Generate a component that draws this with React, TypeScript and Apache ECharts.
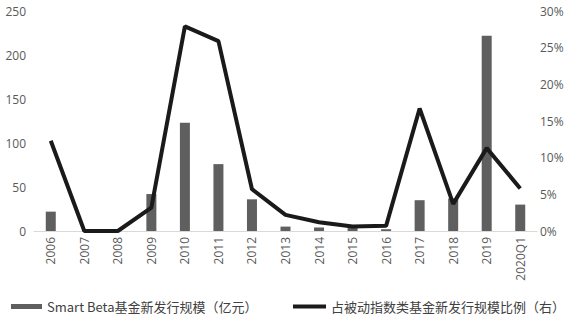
import React, { useEffect, useRef } from "react";
import * as echarts from "echarts";

const categories = ["2006", "2007", "2008", "2009", "2010", "2011", "2012", "2013", "2014", "2015", "2016", "2017", "2018", "2019", "2020Q1"];
const issueScale = [22, 0, 0, 42, 123, 76, 36, 5, 4, 6, 2, 35, 37, 222, 30];
const passiveShare = [12.3, 0, 0, 3.2, 27.9, 25.9, 5.7, 2.2, 1.2, 0.6, 0.7, 16.7, 3.7, 11.3, 5.8];
const barName = "Smart Beta基金新发行规模（亿元）";
const lineName = "占被动指数类基金新发行规模比例（右）";

export default function App() {
  const ref = useRef<HTMLDivElement>(null);
  useEffect(() => {
    const chart = echarts.init(ref.current!, null, { renderer: "svg" });
    const axisLabel = { color: "#595959", fontSize: 12, fontFamily: "Open Sans, Noto Sans CJK SC, sans-serif" };
    const legendText = { color: "#404040", fontSize: 13, fontFamily: "Noto Sans CJK SC, sans-serif" };
    chart.setOption({
      animation: false,
      grid: { left: 34, right: 34, top: 11, bottom: 86 },
      legend: [
        {
          data: [{ name: barName, icon: "rect" }],
          left: 6,
          top: 295,
          itemWidth: 31,
          itemHeight: 5,
          itemGap: 0,
          textStyle: legendText,
        },
        {
          data: [{ name: lineName, icon: "rect" }],
          left: 288,
          top: 295,
          itemWidth: 33,
          itemHeight: 4,
          textStyle: legendText,
        },
      ],
      xAxis: {
        type: "category",
        data: categories,
        axisLine: { lineStyle: { color: "#d9d9d9", width: 1 } },
        axisTick: { show: false },
        axisLabel: { ...axisLabel, rotate: 90, margin: 6, interval: 0 },
      },
      yAxis: [
        {
          type: "value",
          min: 0,
          max: 250,
          interval: 50,
          axisLine: { show: false },
          axisTick: { show: false },
          splitLine: { show: false },
          axisLabel: { ...axisLabel, margin: 8 },
        },
        {
          type: "value",
          min: 0,
          max: 30,
          interval: 5,
          position: "right",
          axisLine: { show: false },
          axisTick: { show: false },
          splitLine: { show: false },
          axisLabel: { ...axisLabel, margin: 3, formatter: "{value}%" },
        },
      ],
      series: [
        {
          name: barName,
          type: "bar",
          data: issueScale,
          barWidth: 10,
          itemStyle: { color: "#5f5f5f" },
          yAxisIndex: 0,
        },
        {
          name: lineName,
          type: "line",
          data: passiveShare,
          yAxisIndex: 1,
          symbol: "none",
          lineStyle: { color: "#1a1a1a", width: 4 },
          itemStyle: { color: "#1a1a1a" },
        },
      ],
    });
    return () => chart.dispose();
  }, []);
  return <div ref={ref} style={{ width: 571, height: 317, position: "absolute", left: 0, top: 0 }} />;
}
